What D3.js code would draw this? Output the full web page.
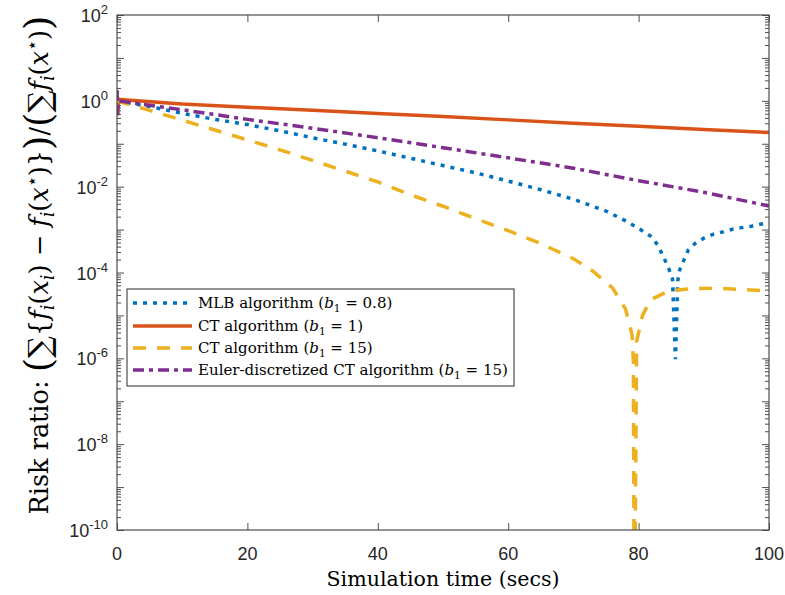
<!DOCTYPE html>
<html>
<head>
<meta charset="utf-8">
<script src="https://cdn.jsdelivr.net/npm/d3@7"></script>
<style>
  body { margin: 0; background: #ffffff; }
  svg { display: block; }
</style>
</head>
<body>
<svg id="chart" width="785" height="595"></svg>
<script>
// ---- Simulation results (risk ratio vs. time in seconds) ----
const mlbTime = [0, 5, 10, 15, 20, 25, 30, 35, 40, 45, 50, 55, 60, 65, 70, 75, 78, 80, 82, 83, 84, 84.6, 85.2, 85.65, 86.0, 86.3, 87.6, 88.7, 90, 91.5, 93, 94.4, 95.8, 97.3, 98.9, 100];
const mlbRisk = [1.0, 0.74, 0.51, 0.37, 0.28, 0.20, 0.138, 0.098, 0.068, 0.046, 0.031, 0.021, 0.0135, 0.0085, 0.0051, 0.0027, 0.0016, 0.00107, 6.8e-4, 4.2e-4, 2.0e-4, 1.26e-4, 7.1e-5, 9.5e-7, 6.3e-5, 1.15e-4, 3.3e-4, 4.8e-4, 6.3e-4, 7.8e-4, 8.9e-4, 1.02e-3, 1.11e-3, 1.20e-3, 1.35e-3, 1.41e-3];

const ct1Time = [0, 0.1, 0.2, 10, 20, 30, 40, 50, 60, 70, 80, 90, 100];
const ct1Risk = [1.0, 0.46, 1.08, 0.84, 0.71, 0.60, 0.51, 0.43, 0.36, 0.30, 0.255, 0.215, 0.182];

const ct15Time = [0, 5, 10, 15, 20, 25, 30, 35, 40, 45, 50, 55, 60, 65, 70, 73, 76, 78, 79, 79.2, 79.35, 79.7, 80.6, 81.8, 84.6, 88, 92, 96, 100];
const ct15Risk = [1.0, 0.60, 0.355, 0.209, 0.123, 0.072, 0.041, 0.023, 0.0129, 0.0065, 0.0035, 0.0018, 9.5e-4, 4.7e-4, 2.1e-4, 1.07e-4, 4.4e-5, 1.4e-5, 3.5e-6, 8e-7, 1e-13, 2.5e-6, 1.0e-5, 2.3e-5, 3.7e-5, 4.2e-5, 4.3e-5, 4.0e-5, 3.7e-5];

const eulerTime = [0, 0.04, 0.1, 0.2, 5, 10, 20, 30, 40, 50, 60, 70, 80, 90, 100];
const eulerRisk = [1.0, 1.75, 0.47, 1.0, 0.79, 0.62, 0.37, 0.23, 0.138, 0.081, 0.047, 0.027, 0.0138, 0.0074, 0.00355];

const xTickValues = [0, 20, 40, 60, 80, 100];
const yLabelExponents = [-10, -8, -6, -4, -2, 0, 2];
const yDecadeExponents = d3.range(-10, 3);

// ---- Series styling ----
const series = [
  { time: mlbTime,   risk: mlbRisk,   color: "#0072BD", dash: "4,6",        label: ["MLB algorithm (", "0.8)"] },
  { time: ct1Time,   risk: ct1Risk,   color: "#D95319", dash: null,         label: ["CT algorithm (", "1)"] },
  { time: ct15Time,  risk: ct15Risk,  color: "#EDB120", dash: "13,11",      label: ["CT algorithm (", "15)"] },
  { time: eulerTime, risk: eulerRisk, color: "#7E2F8E", dash: "11,5,4,5",   label: ["Euler-discretized CT algorithm (", "15)"] }
];

const svg = d3.select("#chart");
const plot = { left: 117, top: 15, right: 769, bottom: 530 };

const x = d3.scaleLinear().domain([0, 100]).range([plot.left, plot.right]);
const y = d3.scaleLog().domain([1e-10, 1e2]).range([plot.bottom, plot.top]);

const sansFont = "'Liberation Sans', Arial, Helvetica, sans-serif";
const serifFont = "'DejaVu Serif', 'Liberation Serif', serif";
const axisColor = "#4d4d4d";
const textColor = "#262626";

svg.append("rect").attr("width", 785).attr("height", 595).attr("fill", "#ffffff");

// clip region for the data lines
svg.append("clipPath").attr("id", "plotClip")
  .append("rect")
  .attr("x", plot.left).attr("y", plot.top)
  .attr("width", plot.right - plot.left).attr("height", plot.bottom - plot.top);

// ---- Axes (ticks point inward on all four sides) ----
const majorLen = 7, minorLen = 4;
const minorValues = [];
for (let k = -10; k < 2; k++) for (let m = 2; m <= 9; m++) minorValues.push(m * Math.pow(10, k));

function styleAxis(g) {
  g.select(".domain").remove();
  g.selectAll(".tick line").attr("stroke", axisColor).attr("stroke-width", 1);
}

svg.append("g").attr("transform", `translate(0,${plot.bottom})`)
  .call(d3.axisBottom(x).tickValues(xTickValues).tickSize(-majorLen).tickFormat(""))
  .call(styleAxis);
svg.append("g").attr("transform", `translate(0,${plot.top})`)
  .call(d3.axisTop(x).tickValues(xTickValues).tickSize(-majorLen).tickFormat(""))
  .call(styleAxis);

const yMajor = yDecadeExponents.map(e => Math.pow(10, e));
svg.append("g").attr("transform", `translate(${plot.left},0)`)
  .call(d3.axisLeft(y).tickValues(yMajor).tickSize(-majorLen).tickFormat(""))
  .call(styleAxis);
svg.append("g").attr("transform", `translate(${plot.left},0)`)
  .call(d3.axisLeft(y).tickValues(minorValues).tickSize(-minorLen).tickFormat(""))
  .call(styleAxis);
svg.append("g").attr("transform", `translate(${plot.right},0)`)
  .call(d3.axisRight(y).tickValues(yMajor).tickSize(-majorLen).tickFormat(""))
  .call(styleAxis);
svg.append("g").attr("transform", `translate(${plot.right},0)`)
  .call(d3.axisRight(y).tickValues(minorValues).tickSize(-minorLen).tickFormat(""))
  .call(styleAxis);

// x tick labels
svg.append("g").selectAll("text").data(xTickValues).join("text")
  .attr("x", d => x(d)).attr("y", 560)
  .attr("text-anchor", "middle")
  .style("font-family", sansFont).style("font-size", "18px").attr("fill", textColor)
  .text(d => d);

// y tick labels: 10 with a superscript exponent
const yLab = svg.append("g").selectAll("text").data(yLabelExponents).join("text")
  .attr("x", plot.left - 9).attr("y", d => y(Math.pow(10, d)) + 7)
  .attr("text-anchor", "end")
  .style("font-family", sansFont).style("font-size", "18px").attr("fill", textColor);
yLab.append("tspan").text("10");
yLab.append("tspan").attr("dy", -8).style("font-size", "13px").text(d => d);

// ---- Data lines ----
const line = d3.line().x(d => x(d[0])).y(d => y(d[1]));
const lines = svg.append("g").attr("clip-path", "url(#plotClip)");
series.forEach(s => {
  lines.append("path")
    .datum(d3.zip(s.time, s.risk))
    .attr("fill", "none")
    .attr("stroke", s.color)
    .attr("stroke-width", 3.5)
    .attr("stroke-dasharray", s.dash)
    .attr("d", line);
});

// box outline
svg.append("rect")
  .attr("x", plot.left).attr("y", plot.top)
  .attr("width", plot.right - plot.left).attr("height", plot.bottom - plot.top)
  .attr("fill", "none").attr("stroke", axisColor).attr("stroke-width", 1.2);

// ---- Rich text helper (italic, sub/superscripts, enlarged delimiters) ----
function richText(sel, parts, size) {
  sel.selectAll("tspan").remove();
  let shift = 0;
  parts.forEach(p => {
    const t = sel.append("tspan").text(p.t);
    let fs = size, target = 0;
    if (p.it) t.style("font-style", "italic");
    if (p.sub) { fs = size * 0.7; target = size * 0.25; }
    if (p.sup) { fs = size * 0.7; target = -size * 0.38; }
    if (p.big) { fs = size * p.big; target = size * (p.drop || 0); }
    t.style("font-size", fs + "px");
    const dy = target - shift;
    if (dy !== 0) t.attr("dy", dy);
    shift = target;
  });
  return sel;
}

// ---- Legend ----
const legend = { x: 127, y: 289, w: 387, h: 97, rowY: [303, 326, 348, 370] };
svg.append("rect")
  .attr("x", legend.x).attr("y", legend.y).attr("width", legend.w).attr("height", legend.h)
  .attr("fill", "#ffffff").attr("stroke", axisColor).attr("stroke-width", 1.2);

const legendTexts = [];
series.forEach((s, i) => {
  const ry = legend.rowY[i];
  svg.append("line")
    .attr("x1", 133).attr("x2", 192).attr("y1", ry).attr("y2", ry)
    .attr("stroke", s.color).attr("stroke-width", 3.5)
    .attr("stroke-dasharray", s.dash);
  const txt = svg.append("text").attr("x", 198).attr("y", ry + 5)
    .style("font-family", serifFont).attr("fill", "#000");
  legendTexts.push([txt, [
    { t: s.label[0] }, { t: "b", it: true }, { t: "1", sub: true }, { t: " = " + s.label[1] }
  ]]);
});
// size legend text so the longest entry spans the box
let legendSize = 15;
legendTexts.forEach(([t, p]) => richText(t, p, legendSize));
const longest = legendTexts[3][0].node().getComputedTextLength();
legendSize = Math.min(16, legendSize * 310 / longest);
legendTexts.forEach(([t, p]) => richText(t, p, legendSize));

// ---- Axis titles ----
const xTitle = svg.append("text")
  .attr("x", (plot.left + plot.right) / 2).attr("y", 586)
  .attr("text-anchor", "middle")
  .style("font-family", serifFont).style("font-size", "19px").attr("fill", "#000")
  .text("Simulation time (secs)");
const xw = xTitle.node().getComputedTextLength();
xTitle.style("font-size", (19 * 233 / xw) + "px");

const yTitleParts = [
  { t: "Risk ratio: " },
  { t: "(", big: 1.45, drop: 0.1 }, { t: "∑", big: 1.2, drop: 0.06 },
  { t: "{" }, { t: "f", it: true }, { t: "i", it: true, sub: true },
  { t: "(" }, { t: "x", it: true }, { t: "i", it: true, sub: true }, { t: ") − " },
  { t: "f", it: true }, { t: "i", it: true, sub: true }, { t: "(" }, { t: "x", it: true },
  { t: "⋆", sup: true }, { t: ")}" },
  { t: ")", big: 1.45, drop: 0.1 }, { t: "/" },
  { t: "(", big: 1.45, drop: 0.1 }, { t: "∑", big: 1.2, drop: 0.06 },
  { t: "f", it: true }, { t: "i", it: true, sub: true }, { t: "(" }, { t: "x", it: true },
  { t: "⋆", sup: true }, { t: ")" },
  { t: ")", big: 1.45, drop: 0.1 }
];
const yTitle = svg.append("text")
  .attr("transform", "translate(48,265) rotate(-90)")
  .attr("text-anchor", "middle")
  .style("font-family", serifFont).attr("fill", "#000");
richText(yTitle, yTitleParts, 18);
const yw = yTitle.node().getComputedTextLength();
richText(yTitle, yTitleParts, 18 * 500 / yw);
</script>
</body>
</html>
